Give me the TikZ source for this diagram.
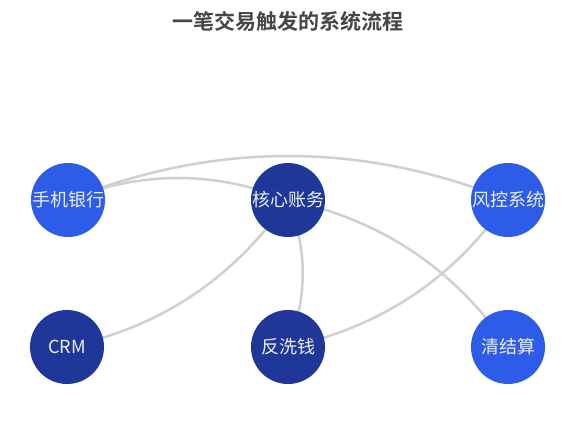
\documentclass[tikz,border=0pt]{standalone}
\usepackage{fontspec}
\newfontfamily\cjk{Noto Sans CJK SC}[BoldFont={Noto Sans CJK SC Bold}]
\usetikzlibrary{calc,backgrounds}
\definecolor{bblue}{HTML}{2D5CE8}
\definecolor{dblue}{HTML}{1F3799}
\definecolor{edgec}{HTML}{D0D0D0}
\definecolor{titlec}{HTML}{464646}
\definecolor{labelc}{HTML}{EEEEEE}
\tikzset{
  sysnode/.style={circle, minimum size=74pt, inner sep=0pt, text=labelc,
    font=\cjk\fontsize{18pt}{18pt}\selectfont},
  lightnode/.style={sysnode, fill=bblue},
  darknode/.style={sysnode, fill=dblue},
  linkline/.style={draw=edgec, line width=2.5pt},
}
\newcommand\curvelink[2]{%
  \coordinate (ctl-#1-#2) at ($(#1.center)!0.5!(#2.center)!0.4!90:(#2.center)$);
  \draw[linkline] (#1.center) .. controls ($(#1.center)!0.6667!(ctl-#1-#2)$)
    and ($(#2.center)!0.6667!(ctl-#1-#2)$) .. (#2.center);%
}
\begin{document}
\begin{tikzpicture}[x=1pt,y=-1pt]
\useasboundingbox (0,0) rectangle (585,441);
\node[text=titlec, font=\cjk\bfseries\fontsize{21pt}{21pt}\selectfont] (title) at (288,21) {一笔交易触发的系统流程};
\node[lightnode] (sj) at (68,200) {手机银行};
\node[darknode] (hx) at (288,200) {核心账务};
\node[lightnode] (fk) at (508,200) {风控系统};
\node[darknode] (crm) at (67,347) {CRM};
\node[darknode] (fx) at (288,347) {反洗钱};
\node[lightnode] (qj) at (508,347) {清结算};
\begin{scope}[on background layer]
\fill[white] (0,0) rectangle (585,441);
\curvelink{sj}{fk}
\curvelink{sj}{hx}
\curvelink{hx}{crm}
\curvelink{hx}{fx}
\curvelink{hx}{qj}
\curvelink{fk}{fx}
\end{scope}
\end{tikzpicture}
\end{document}
